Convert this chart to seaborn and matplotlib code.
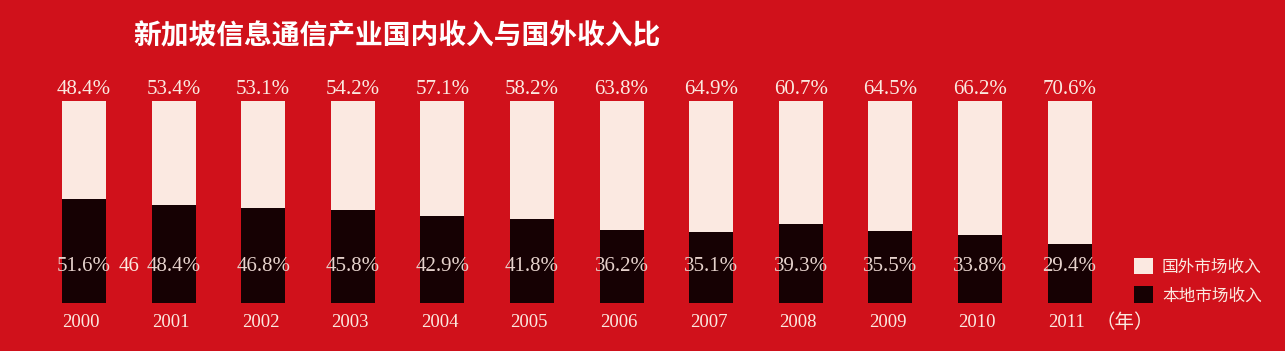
import pandas as pd
import seaborn as sns
import matplotlib.pyplot as plt

# 数据
years = ['2000', '2001', '2002', '2003', '2004', '2005',
         '2006', '2007', '2008', '2009', '2010', '2011']
foreign = [48.4, 53.4, 53.1, 54.2, 57.1, 58.2, 63.8, 64.9, 60.7, 64.5, 66.2, 70.6]
local = [51.6, 48.4, 46.8, 45.8, 42.9, 41.8, 36.2, 35.1, 39.3, 35.5, 33.8, 29.4]

red = '#d0111b'
light = '#fbe9e1'
dark = '#160103'
cream = '#fbe9e0'

df = pd.DataFrame({'year': years, 'foreign': foreign, 'local': local})
df['total'] = 100

sns.set_theme(style='white')
plt.rcParams['font.family'] = ['Noto Sans CJK SC', 'DejaVu Sans']

fig = plt.figure(figsize=(12.85, 3.51), dpi=100, facecolor=red)
ax = fig.add_axes([0, 0, 1, 1])
ax.set_facecolor(red)

sns.barplot(data=df, x='year', y='total', color=light, width=0.49,
            saturation=1, linewidth=0, label='国外市场收入', ax=ax)
sns.barplot(data=df, x='year', y='local', color=dark, width=0.49,
            saturation=1, linewidth=0, label='本地市场收入', ax=ax)

# 坐标范围，使柱子位置与原图一致
ax.set_xlim(-84 / 89.6, (1285 - 84) / 89.6)
ax.set_ylim(-(351 - 303) / 202 * 100, 100 + 101 / 202 * 100)
ax.axis('off')

serif = ['Liberation Serif', 'DejaVu Serif']
for i, (f, l) in enumerate(zip(foreign, local)):
    ax.text(i, 105.5, f'{f:.1f}%', ha='center', va='center',
            fontsize=15, color=cream, family=serif)
    ax.text(i, 18, f'{l:.1f}%', ha='center', va='center',
            fontsize=15, color='#e6d2cc', family=serif)
    ax.text(i - 0.03, -9.5, years[i], ha='center', va='center',
            fontsize=13.5, color=cream, family=serif)

# 原图中的残留数字
ax.text(0.5, 18, '46', ha='center', va='center', fontsize=15,
        color=cream, family=serif)
ax.text(11.62, -9.5, '（年）', ha='center', va='center', fontsize=14,
        color=cream, family=['Noto Sans CJK SC', 'DejaVu Sans'])

fig.text(133 / 1285, 1 - 35 / 351, '新加坡信息通信产业国内收入与国外收入比',
         ha='left', va='center', fontsize=20, fontweight='bold', color='white')

leg = ax.legend(loc='center left', bbox_to_anchor=(1127 / 1285, 1 - 281 / 351),
                frameon=False, fontsize=12, handlelength=1.15, handleheight=1.15,
                labelspacing=0.65, handletextpad=0.55, borderaxespad=0)
for t in leg.get_texts():
    t.set_color(cream)

fig.savefig('out.png', dpi=100, facecolor=red)
